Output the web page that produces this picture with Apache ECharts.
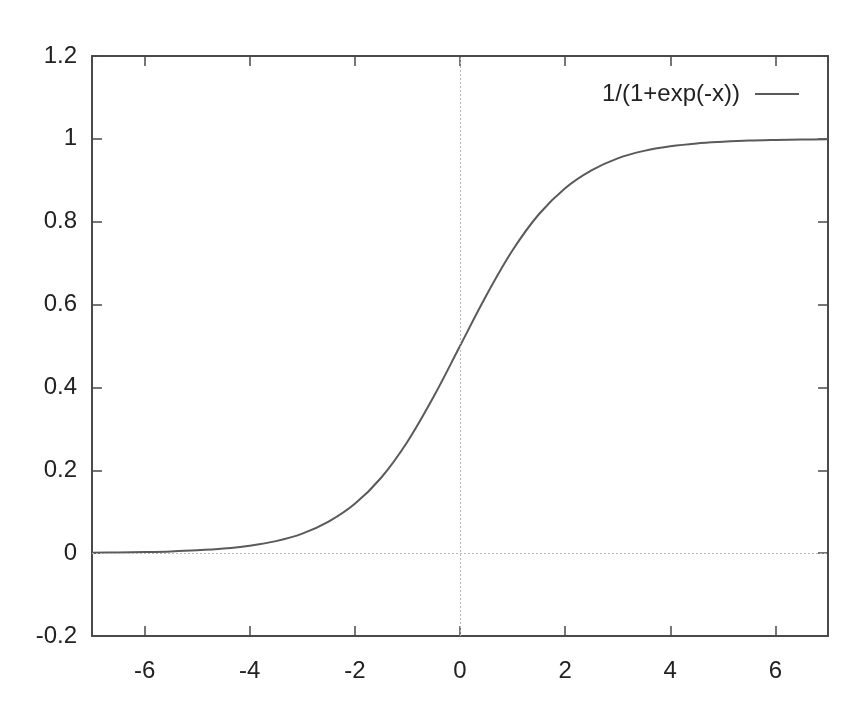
<!DOCTYPE html>
<html>
<head>
<meta charset="utf-8">
<script src="https://cdn.jsdelivr.net/npm/echarts@6/dist/echarts.min.js"></script>
<style>
html,body{margin:0;padding:0;background:#fff;}
#chart{width:863px;height:723px;}
</style>
</head>
<body>
<div id="chart"></div>
<script>
// Values
var xValues = [-7,-6.5,-6,-5.5,-5,-4.5,-4,-3.5,-3,-2.5,-2,-1.5,-1,-0.5,0,0.5,1,1.5,2,2.5,3,3.5,4,4.5,5,5.5,6,6.5,7];
var yValues = [0.001,0.0015,0.0025,0.004,0.0067,0.011,0.018,0.029,0.047,0.076,0.119,0.182,0.269,0.378,0.5,0.622,0.731,0.818,0.881,0.924,0.953,0.971,0.982,0.989,0.993,0.996,0.9975,0.9985,0.999];
var xTicks = [-6,-4,-2,0,2,4,6];
var yTicks = [-0.2,0,0.2,0.4,0.6,0.8,1,1.2];
var seriesName = '1/(1+exp(-x))';

var points = xValues.map(function(x,i){ return [x, yValues[i]]; });

var FONT = 'Liberation Sans';
var frameColor = '#4a4a4a';
var textColor = '#222222';

function makeX(pos, showLabel){
  return {
    type:'value', position:pos, min:-7, max:7,
    axisLine:{show:true, onZero:false, lineStyle:{color:frameColor, width:2}},
    axisTick:{show:true, inside:true, length:10, customValues:xTicks, lineStyle:{color:frameColor, width:1.5}},
    axisLabel:{show:showLabel, customValues:xTicks, fontFamily:FONT, fontSize:24, color:textColor, margin:23},
    splitLine:{show:false}
  };
}
function makeY(pos, showLabel){
  return {
    type:'value', position:pos, min:-0.2, max:1.2,
    axisLine:{show:true, onZero:false, lineStyle:{color:frameColor, width:2}},
    axisTick:{show:true, inside:true, length:10, customValues:yTicks, lineStyle:{color:frameColor, width:1.5}},
    axisLabel:{show:showLabel, customValues:yTicks, fontFamily:FONT, fontSize:24, color:textColor, margin:15,
      formatter:function(v){ return String(Math.round(v*10)/10); }},
    splitLine:{show:false}
  };
}

var chart = echarts.init(document.getElementById('chart'), null, {renderer:'canvas'});
chart.setOption({
  animation:false,
  backgroundColor:'#ffffff',
  grid:{left:92, right:35, top:56, bottom:87, containLabel:false},
  legend:{
    show:true, right:59, top:77, align:'right',
    itemWidth:44, itemHeight:14,
    textStyle:{fontFamily:FONT, fontSize:24, color:textColor, padding:[0,10,0,0]},
    data:[{name:seriesName, icon:'path://M0,0 L44,0 L44,1.8 L0,1.8 Z'}]
  },
  xAxis:[makeX('bottom', true), makeX('top', false)],
  yAxis:[makeY('left', true), makeY('right', false)],
  series:[{
    name:seriesName, type:'line', xAxisIndex:0, yAxisIndex:0,
    data:points, smooth:0.35, showSymbol:false, symbol:'none',
    itemStyle:{color:'#5a5a5a'},
    lineStyle:{color:'#5a5a5a', width:2},
    markLine:{
      silent:true, symbol:'none', animation:false,
      label:{show:false},
      lineStyle:{color:'#b8b8b8', type:[2,2], width:1},
      data:[{xAxis:0},{yAxis:0}]
    },
    z:3
  }]
});
</script>
</body>
</html>
